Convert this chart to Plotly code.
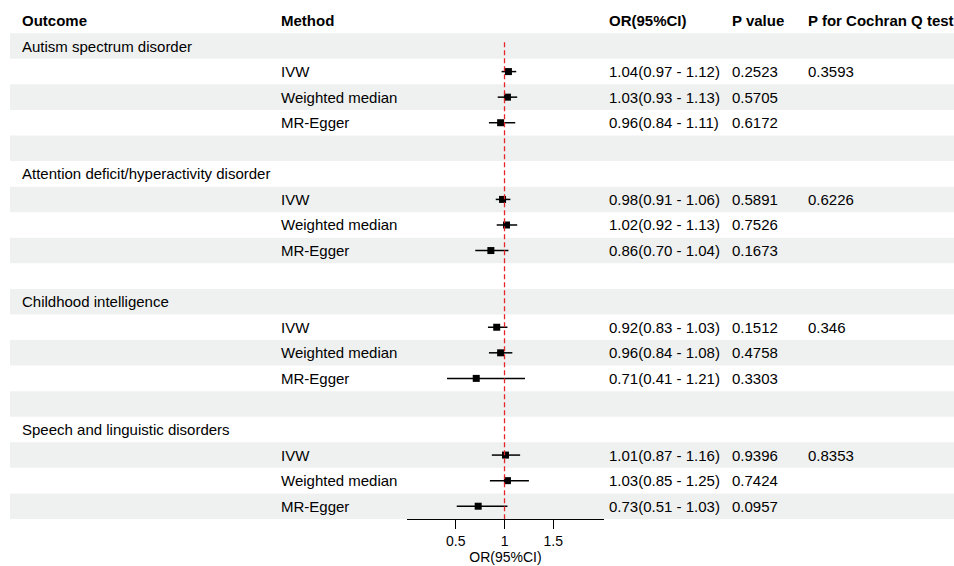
import plotly.graph_objects as go

# ---------------- data ----------------
outcomes = ["Autism spectrum disorder", "Attention deficit/hyperactivity disorder",
            "Childhood intelligence", "Speech and linguistic disorders"]
methods = ["IVW", "Weighted median", "MR-Egger"]
or_est = [[1.04, 1.03, 0.96], [0.98, 1.02, 0.86], [0.92, 0.96, 0.71], [1.01, 1.03, 0.73]]
ci_low = [[0.97, 0.93, 0.84], [0.91, 0.92, 0.70], [0.83, 0.84, 0.41], [0.87, 0.85, 0.51]]
ci_high = [[1.12, 1.13, 1.11], [1.06, 1.13, 1.04], [1.03, 1.08, 1.21], [1.16, 1.25, 1.03]]
p_values = [["0.2523", "0.5705", "0.6172"], ["0.5891", "0.7526", "0.1673"],
            ["0.1512", "0.4758", "0.3303"], ["0.9396", "0.7424", "0.0957"]]
q_test = ["0.3593", "0.6226", "0.346", "0.8353"]
headers = ["Outcome", "Method", "OR(95%CI)", "P value", "P for Cochran Q test"]
tick_vals = [0.5, 1, 1.5]

# ---------------- build rows ----------------
rows = []
for i, oc in enumerate(outcomes):
    rows.append(dict(outcome=oc))
    for j, m in enumerate(methods):
        rows.append(dict(method=m, est=or_est[i][j], lo=ci_low[i][j], hi=ci_high[i][j],
                         ortext=f"{or_est[i][j]:.2f}({ci_low[i][j]:.2f} - {ci_high[i][j]:.2f})",
                         p=p_values[i][j], q=q_test[i] if j == 0 else ""))
    if i < len(outcomes) - 1:
        rows.append(dict())

W, H = 954, 566
FONT = "Liberation Sans, Arial, sans-serif"
col_x = [22, 281, 609, 732, 808]

fig = go.Figure()

shapes = []
for k in range(len(rows)):
    y = k + 1
    if k % 2 == 0:
        shapes.append(dict(type="rect", xref="paper", yref="y", x0=10 / W, x1=1.0,
                           y0=y - 0.5, y1=y + 0.5, fillcolor="#eff1f0", line=dict(width=0),
                           layer="below"))
shapes.append(dict(type="line", xref="x", yref="y", x0=1, x1=1, y0=0.85, y1=len(rows) + 0.5,
                   line=dict(color="#e4262a", width=1.3, dash="5px,3px")))


def txt(x, y, t):
    return dict(xref="paper", yref="y", x=x / W, y=y, text=t, showarrow=False,
                xanchor="left", yanchor="middle", borderpad=0, borderwidth=0,
                font=dict(family=FONT, size=15, color="black"))


annotations = [txt(col_x[c], 0, f"<b>{h}</b>") for c, h in enumerate(headers)]
ys, xs, lo_err, hi_err = [], [], [], []
for k, r in enumerate(rows):
    y = k + 1
    if "outcome" in r:
        annotations.append(txt(col_x[0], y, r["outcome"]))
    if "method" in r:
        for c, t in zip([1, 2, 3, 4], [r["method"], r["ortext"], r["p"], r["q"]]):
            if t:
                annotations.append(txt(col_x[c], y, t))
        ys.append(y)
        xs.append(r["est"])
        lo_err.append(r["est"] - r["lo"])
        hi_err.append(r["hi"] - r["est"])

fig.add_trace(go.Scatter(
    x=xs, y=ys, mode="markers",
    marker=dict(symbol="square", size=7, color="black"),
    error_x=dict(type="data", symmetric=False, array=hi_err, arrayminus=lo_err,
                 color="black", thickness=1.5, width=0),
    showlegend=False, hoverinfo="skip"))

nrows = len(rows)
bottom_px = 20.4 + 25.56 * (nrows + 0.5)
fig.update_layout(
    width=W, height=H, margin=dict(l=0, r=0, t=0, b=H - bottom_px),
    paper_bgcolor="white", plot_bgcolor="rgba(0,0,0,0)",
    shapes=shapes, annotations=annotations,
    xaxis=dict(domain=[407 / W, 604 / W], range=[0, 2.02], tickvals=tick_vals,
               ticktext=[str(v) for v in tick_vals], showgrid=False, zeroline=False,
               showline=True, linecolor="black", linewidth=1, ticks="outside", ticklen=9,
               tickcolor="black", tickwidth=1,
               tickfont=dict(family=FONT, size=14, color="black"),
               title=dict(text="OR(95%CI)", font=dict(family=FONT, size=14, color="black"),
                          standoff=2)),
    yaxis=dict(range=[nrows + 0.5, -0.8], visible=False, showgrid=False, zeroline=False),
)

fig.write_html("out.html", config={"displayModeBar": False},
               post_script="document.body.style.margin='0';document.body.style.overflow='hidden';")
